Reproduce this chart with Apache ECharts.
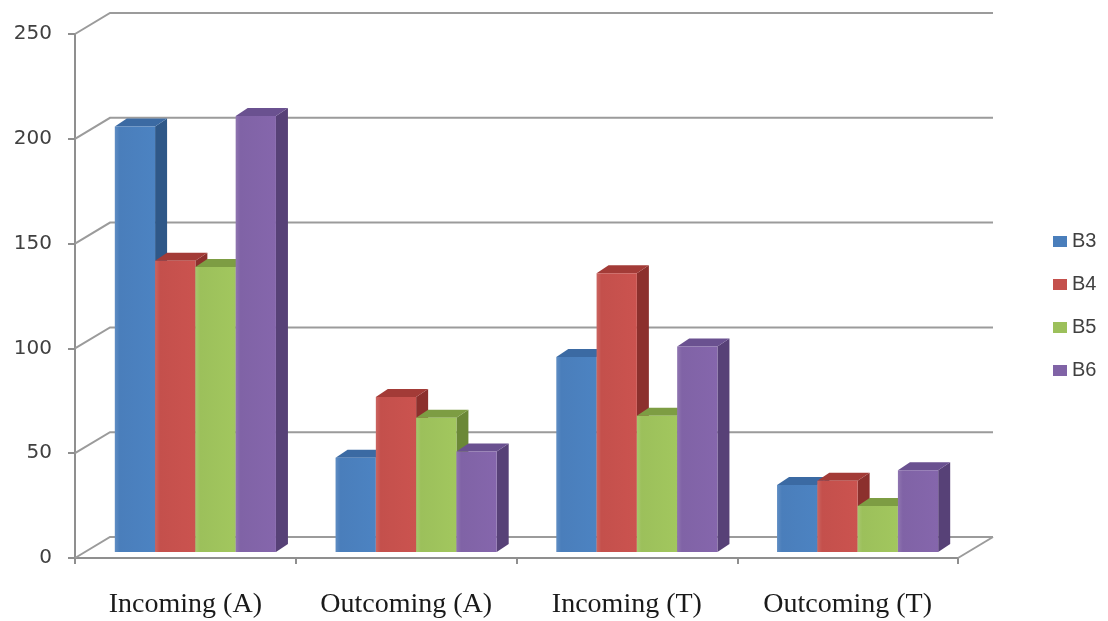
<!DOCTYPE html>
<html>
<head>
<meta charset="utf-8">
<script src="https://cdn.jsdelivr.net/npm/echarts@6/dist/echarts.min.js"></script>
<style>
  html, body { margin: 0; padding: 0; background: #ffffff; }
  #chart { width: 1108px; height: 621px; }
</style>
</head>
<body>
<div id="chart"></div>
<script>
// Categories and series values
const categories = ['Incoming (A)', 'Outcoming (A)', 'Incoming (T)', 'Outcoming (T)'];
const seriesNames = ['B3', 'B4', 'B5', 'B6'];
const b3 = [203, 45, 93, 32];
const b4 = [139, 74, 133, 34];
const b5 = [136, 64, 65, 22];
const b6 = [208, 48, 98, 39];
const yTicks = [0, 50, 100, 150, 200, 250];

const seriesValues = [b3, b4, b5, b6];

// Face shades for each series: front, top, side
const palette = [
  { front: '#4a7ebb', top: '#3b6aa3', side: '#2f5888' },
  { front: '#c4504c', top: '#a33b37', side: '#8c302d' },
  { front: '#9cc05b', top: '#7d9d43', side: '#6b8837' },
  { front: '#8063a6', top: '#6a5190', side: '#574177' }
];

// Oblique projection offsets (pixels)
const WALL_DX = 35, WALL_DY = 21;        // front edge -> back wall
const BAR_DX = 10, BAR_DY = 6;           // front edge -> bar front face
const BAR_DEPTH_X = 12, BAR_DEPTH_Y = 8; // bar thickness
const BAR_RATIO = 0.1825;                // bar width as a share of the category band

const chart = echarts.init(document.getElementById('chart'), null, { renderer: 'canvas' });

// Walls: left side wall diagonals, back wall gridlines, floor edge
function renderWall(params, api) {
  const v = api.value(1);
  const p = api.coord([0, v]);
  const cs = params.coordSys;
  const x0 = cs.x, x1 = cs.x + cs.width, y = p[1];
  const style = { stroke: '#9b9b9b', lineWidth: 2, fill: null };
  const children = [{
    type: 'polyline',
    shape: { points: [[x0, y], [x0 + WALL_DX, y - WALL_DY], [x1 + WALL_DX, y - WALL_DY]] },
    style: style
  }];
  if (v === 0) {
    children.push({
      type: 'line',
      shape: { x1: x1, y1: y, x2: x1 + WALL_DX, y2: y - WALL_DY },
      style: style
    });
  }
  return { type: 'group', children: children };
}

function makeBarRenderer(k) {
  const c = palette[k];
  return function (params, api) {
    const cat = api.value(0);
    const v = api.value(1);
    const center = api.coord([cat, 0]);
    const topPt = api.coord([cat, v]);
    const band = api.size([1, 0])[0];
    const bw = band * BAR_RATIO;
    const xl = center[0] - 2 * bw + k * bw + BAR_DX;
    const xr = xl + bw;
    const yb = center[1] - BAR_DY;
    const yt = topPt[1] - BAR_DY;
    const dx = BAR_DEPTH_X, dy = BAR_DEPTH_Y;
    return {
      type: 'group',
      children: [
        {
          type: 'polygon',
          shape: { points: [[xr, yb], [xr + dx, yb - dy], [xr + dx, yt - dy], [xr, yt]] },
          style: { fill: c.side }
        },
        {
          type: 'polygon',
          shape: { points: [[xl, yt], [xr, yt], [xr + dx, yt - dy], [xl + dx, yt - dy]] },
          style: { fill: c.top }
        },
        {
          type: 'rect',
          shape: { x: xl, y: yt, width: bw, height: yb - yt },
          style: {
            fill: new echarts.graphic.LinearGradient(0, 0, 1, 0, [
              { offset: 0, color: echarts.color.lift(c.front, 0.12) },
              { offset: 0.12, color: c.front },
              { offset: 1, color: echarts.color.lift(c.front, -0.04) }
            ])
          }
        }
      ]
    };
  };
}

const barSeries = seriesNames.map(function (name, k) {
  return {
    name: name,
    type: 'custom',
    renderItem: makeBarRenderer(k),
    clip: false,
    z: 3 + k,
    itemStyle: { color: palette[k].front },
    encode: { x: 0, y: 1 },
    data: seriesValues[k].map(function (v, i) { return [i, v]; })
  };
});

const option = {
  backgroundColor: '#ffffff',
  animation: false,
  grid: { left: 75, right: 150, top: 34, bottom: 63, containLabel: false },
  legend: {
    orient: 'vertical',
    left: 1048,
    top: 226,
    itemWidth: 14,
    itemHeight: 11,
    itemGap: 22,
    icon: 'rect',
    data: seriesNames,
    textStyle: { fontFamily: 'Liberation Sans', fontSize: 20, lineHeight: 21, color: '#404040' }
  },
  xAxis: {
    type: 'category',
    data: categories,
    boundaryGap: true,
    axisLine: { show: true, lineStyle: { color: '#8f8f8f', width: 2 } },
    axisTick: { show: true, interval: 0, length: 6, lineStyle: { color: '#8f8f8f', width: 2 } },
    axisLabel: { interval: 0, hideOverlap: false, fontFamily: 'Liberation Serif', fontSize: 28, color: '#1a1a1a', margin: 33 },
    splitLine: { show: false }
  },
  yAxis: {
    type: 'value',
    min: 0,
    max: 250,
    interval: 50,
    axisLine: { show: true, lineStyle: { color: '#8f8f8f', width: 2 } },
    axisTick: { show: true, length: 7, lineStyle: { color: '#8f8f8f', width: 2 } },
    axisLabel: { fontFamily: 'DejaVu Sans', fontSize: 20, color: '#404040', margin: 23 },
    splitLine: { show: false }
  },
  series: [{
    name: 'walls',
    type: 'custom',
    renderItem: renderWall,
    clip: false,
    silent: true,
    z: 1,
    encode: { x: 0, y: 1 },
    data: yTicks.map(function (v) { return [0, v]; })
  }].concat(barSeries)
};

chart.setOption(option);
</script>
</body>
</html>
